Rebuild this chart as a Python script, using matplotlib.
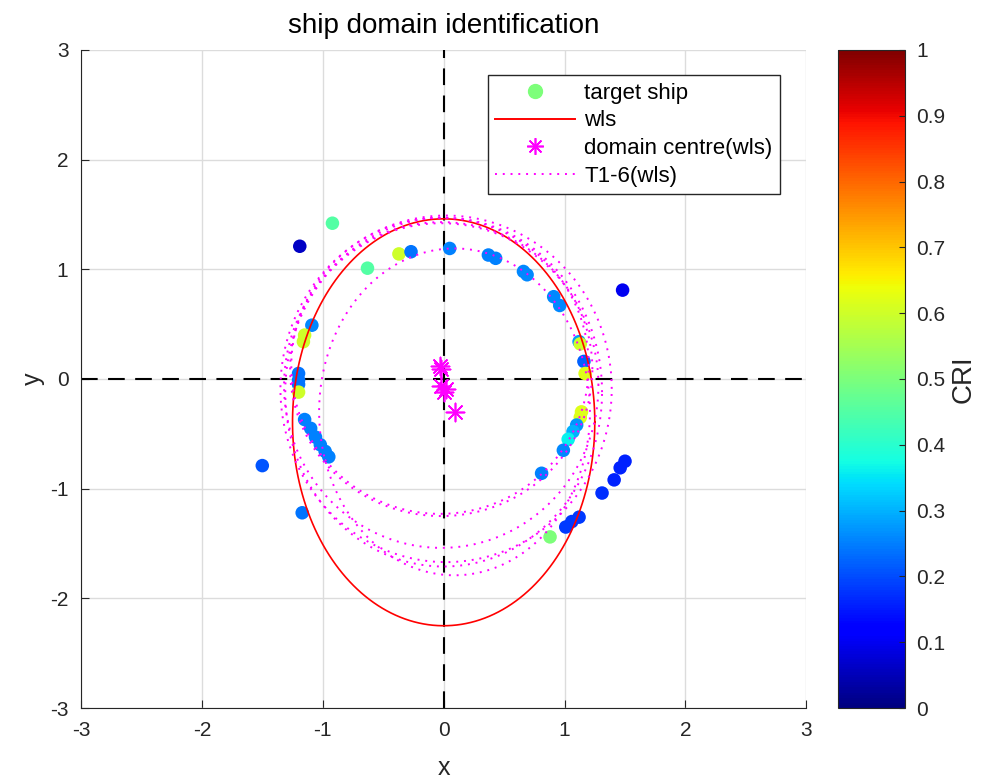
import matplotlib
matplotlib.use("Agg")
import matplotlib.pyplot as plt
import numpy as np
from matplotlib import font_manager
from matplotlib.lines import Line2D

available = {f.name for f in font_manager.fontManager.ttflist}
family = [f for f in ["Liberation Sans Narrow", "Liberation Sans", "DejaVu Sans"] if f in available]
plt.rcParams["font.family"] = family
plt.rcParams["axes.unicode_minus"] = False

INK = "#262626"
MAGENTA = "#ff00ff"

# target ships: position and CRI
ship_x = [-1.19, -0.92, -0.63, -0.37, -0.27, -1.09, -1.15, -1.16, -1.20, -1.20, -1.20, -1.20,
          -1.15, -1.10, -1.06, -1.02, -0.98, -0.95, -1.50, -1.17,
          0.05, 0.37, 0.43, 0.66, 0.69, 0.91, 0.96, 1.48, 1.12, 1.13, 1.16, 1.17,
          1.14, 1.13, 1.10, 1.07, 1.03, 0.99, 0.81,
          1.50, 1.46, 1.41, 1.31, 1.12, 1.06, 1.01, 0.88]
ship_y = [1.21, 1.42, 1.01, 1.14, 1.16, 0.49, 0.40, 0.34, 0.05, -0.01, -0.05, -0.12,
          -0.37, -0.45, -0.53, -0.60, -0.66, -0.71, -0.79, -1.22,
          1.19, 1.13, 1.10, 0.98, 0.95, 0.75, 0.67, 0.81, 0.34, 0.32, 0.16, 0.05,
          -0.30, -0.35, -0.42, -0.48, -0.55, -0.65, -0.86,
          -0.75, -0.81, -0.92, -1.04, -1.26, -1.30, -1.35, -1.44]
ship_cri = [0.06, 0.45, 0.45, 0.60, 0.24, 0.26, 0.60, 0.60, 0.24, 0.24, 0.24, 0.60,
            0.25, 0.25, 0.25, 0.25, 0.25, 0.25, 0.21, 0.24,
            0.25, 0.25, 0.25, 0.26, 0.26, 0.26, 0.26, 0.10, 0.28, 0.60, 0.22, 0.62,
            0.62, 0.62, 0.27, 0.30, 0.36, 0.26, 0.25,
            0.16, 0.16, 0.16, 0.17, 0.18, 0.18, 0.18, 0.50]

# wls domain ellipse: centre and semi-axes
wls_cx, wls_cy, wls_a, wls_b = 0.0, -0.395, 1.25, 1.855

# T1-6 ellipses (centres are the domain centres)
t_cx = [-0.03, -0.02, -0.02, 0.02, 0.00, 0.09]
t_cy = [0.12, 0.09, -0.06, -0.09, -0.12, -0.30]
t_a = [1.23, 1.25, 1.30, 1.37, 1.31, 1.12]
t_b = [1.35, 1.34, 1.48, 1.58, 1.59, 1.49]

fig = plt.figure(figsize=(9.87, 7.8), dpi=100)
ax = fig.add_axes([0.082, 0.0923, 0.735, 0.8437])
cax = fig.add_axes([0.849, 0.0923, 0.068, 0.8437])

ax.plot([-3, 3], [0, 0], color="black", lw=1.5, dashes=(8, 5), zorder=2)
ax.plot([0, 0], [-3, 3], color="black", lw=1.5, dashes=(8, 5), zorder=2)

t = np.linspace(0, 2 * np.pi, 200)
sc = ax.scatter(ship_x, ship_y, c=ship_cri, cmap="jet", vmin=0, vmax=1, s=95,
                edgecolors="none", zorder=3)
ax.plot(wls_cx + wls_a * np.cos(t), wls_cy + wls_b * np.sin(t), color="red", lw=1.2, zorder=4)
for i in range(len(t_cx)):
    ax.plot(t_cx[i] + t_a[i] * np.cos(t), t_cy[i] + t_b[i] * np.sin(t), color=MAGENTA,
            lw=1.4, linestyle=(0, (1, 3)), zorder=4)
ax.scatter(t_cx, t_cy, marker=(8, 2, 0), s=170, color=MAGENTA, linewidths=1.2, zorder=5)

handles = [
    Line2D([], [], marker="o", ls="none", color=plt.cm.jet(0.5), markersize=10),
    Line2D([], [], color="red", lw=1.4),
    Line2D([], [], marker=(8, 2, 0), ls="none", color=MAGENTA, markersize=12, mew=1.2),
    Line2D([], [], color=MAGENTA, lw=1.4, linestyle=(0, (1, 3))),
]
labels = ["target ship", "wls", "domain centre(wls)", "T1-6(wls)"]
leg = ax.legend(handles, labels, loc="upper right", bbox_to_anchor=(0.964, 0.962),
                fontsize=16, frameon=True, fancybox=False, edgecolor=INK, framealpha=1,
                borderpad=0.35, labelspacing=0.3, handlelength=3.6, handletextpad=0.4,
                borderaxespad=0)
leg.get_frame().set_linewidth(1.0)

ax.set_xlim(-3, 3)
ax.set_ylim(-3, 3)
ax.set_xticks(np.arange(-3, 4, 1))
ax.set_yticks(np.arange(-3, 4, 1))
ax.grid(True, color="#dcdcdc", lw=1.0)
ax.set_axisbelow(True)
for s in ["top", "right"]:
    ax.spines[s].set_visible(False)
for s in ["left", "bottom"]:
    ax.spines[s].set_color(INK)
ax.tick_params(direction="in", length=6, labelsize=15, colors=INK, pad=9)
ax.set_xlabel("x", fontsize=18, color=INK, labelpad=12)
ax.set_ylabel("y", fontsize=18, color=INK)
ax.set_title("ship domain identification", fontsize=20, color="black", pad=12)

cb = fig.colorbar(sc, cax=cax, ticks=np.linspace(0, 1, 11))
cb.ax.set_yticklabels(["0", "0.1", "0.2", "0.3", "0.4", "0.5", "0.6", "0.7", "0.8", "0.9", "1"])
cb.ax.tick_params(direction="in", length=4, labelsize=15, colors=INK, pad=8)
cb.outline.set_edgecolor(INK)
cb.set_label("CRI", fontsize=20, color=INK)

fig.savefig("out.png", dpi=100, facecolor="white")
